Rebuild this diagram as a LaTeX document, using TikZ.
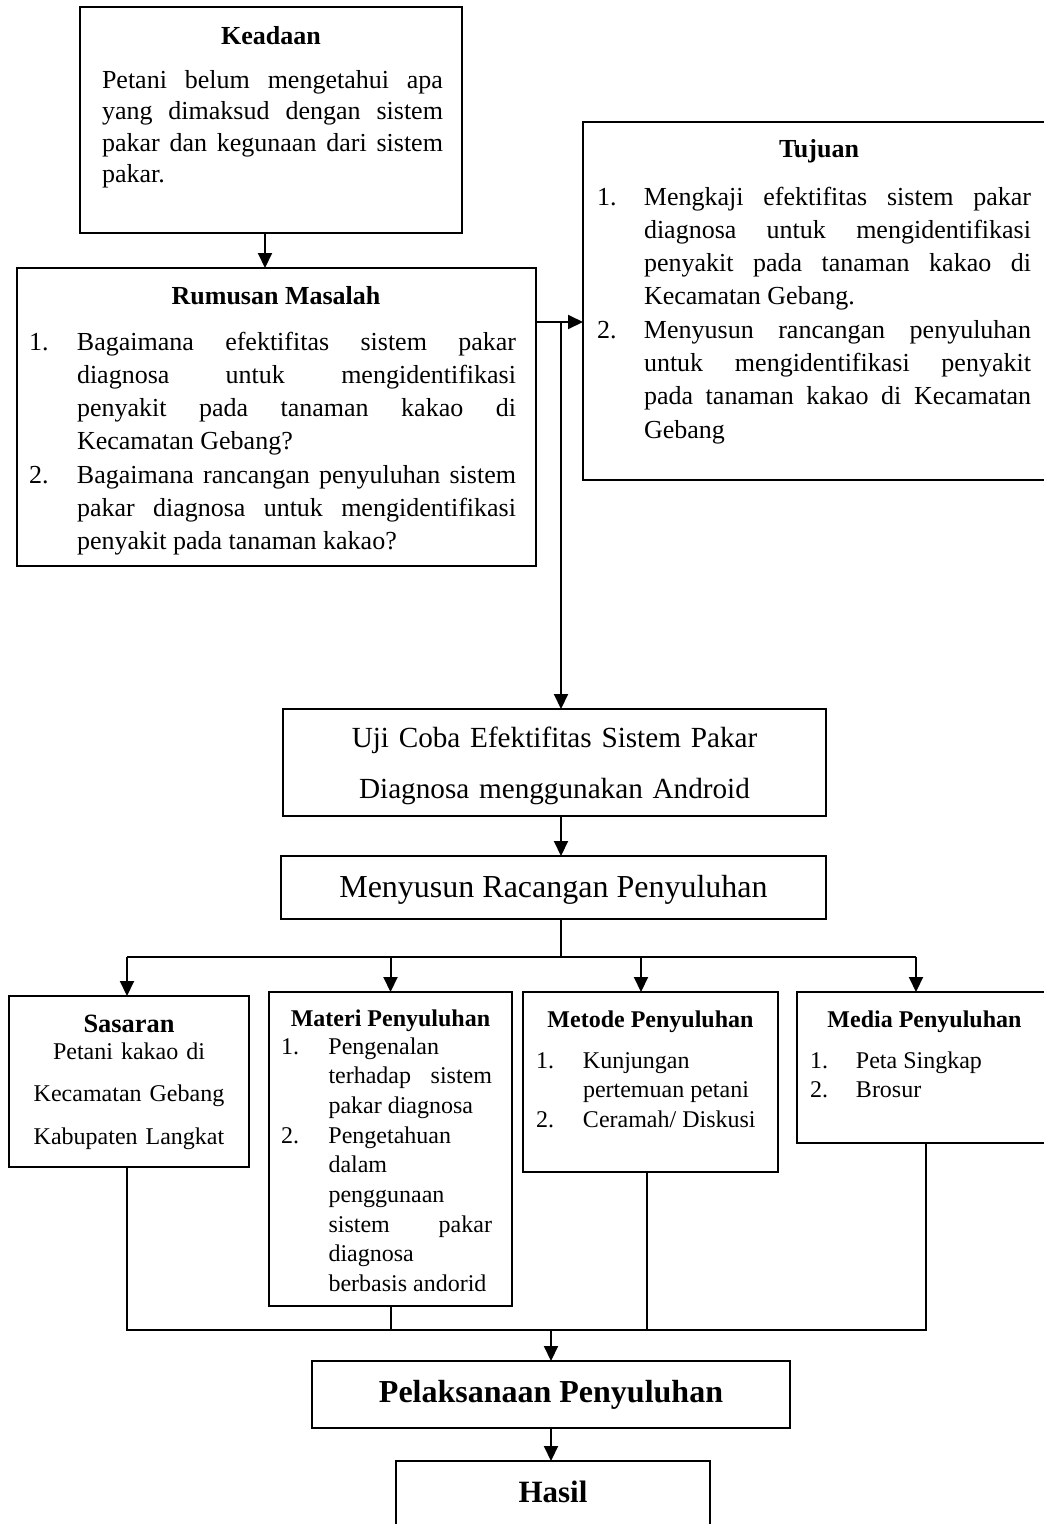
\documentclass[tikz,border=0pt]{standalone}
\usepackage{fontspec}
\setmainfont{Liberation Serif}
\usetikzlibrary{arrows.meta}

\hbadness=10000
\hyphenpenalty=10000
\tolerance=10000

\newlength{\numw}
\newcommand{\numitem}[2]{\noindent\hangindent=\numw\hangafter=1\makebox[\numw][l]{#1}#2\par}
\newcommand{\topfont}{\fontsize{26}{33.3}\selectfont}
\newcommand{\boxfont}{\fontsize{24}{29.7}\selectfont}

\begin{document}
\begin{tikzpicture}[
    x=1pt, y=-1pt,
    >={Triangle[length=15pt, width=14pt]},
    line width=2pt,
    box/.style={draw, line width=2pt, outer sep=0pt, inner sep=0pt, anchor=north west},
    head/.style={anchor=base, inner sep=0pt},
    body/.style={anchor=base west, inner sep=0pt, align=justify},
    mid/.style={anchor=base, inner sep=0pt, align=center},
  ]

  \useasboundingbox (0,0) rectangle (1044,1524);
  \clip (0,0) rectangle (1044,1524);

  % === Keadaan ===
  \node[box, minimum width=382pt, minimum height=226pt] (keadaan) at (80,7) {};
  \node[head, font={\fontsize{26}{32}\selectfont\bfseries}] (keadaanHead) at (271,44) {Keadaan};
  \node[body, text width=341pt, font={\fontsize{26}{31.5}\selectfont}] (keadaanBody) at (101,88)
    {Petani belum mengetahui apa\linebreak yang dimaksud dengan sistem\linebreak
     pakar dan kegunaan dari sistem\linebreak pakar.};

  % === Rumusan Masalah ===
  \node[box, minimum width=519pt, minimum height=298pt] (rumusan) at (17,268) {};
  \node[head, font={\topfont\bfseries}] (rumusanHead) at (276,304) {Rumusan Masalah};
  \node[body, text width=487pt, font=\topfont] (rumusanBody) at (28,350)
    {\setlength{\numw}{48pt}%
     \numitem{1.}{Bagaimana efektifitas sistem pakar\linebreak diagnosa untuk mengidentifikasi\linebreak
       penyakit pada tanaman kakao di\linebreak Kecamatan Gebang?}%
     \numitem{2.}{Bagaimana rancangan penyuluhan sistem\linebreak pakar diagnosa untuk mengidentifikasi\linebreak
       penyakit pada tanaman kakao?}};

  % === Tujuan ===
  \node[box, minimum width=472pt, minimum height=358pt] (tujuan) at (583,122) {};
  \node[head, font={\topfont\bfseries}] (tujuanHead) at (819,157) {Tujuan};
  \node[body, text width=434pt, font=\topfont] (tujuanBody) at (596,205)
    {\setlength{\numw}{47pt}%
     \numitem{1.}{Mengkaji efektifitas sistem pakar\linebreak diagnosa untuk mengidentifikasi\linebreak
       penyakit pada tanaman kakao di\linebreak Kecamatan Gebang.}%
     \numitem{2.}{Menyusun rancangan penyuluhan\linebreak untuk mengidentifikasi penyakit\linebreak
       pada tanaman kakao di Kecamatan\linebreak Gebang}};

  % Rumusan -> Tujuan, and down to the trial box
  \coordinate (split) at (561,322);
  \draw[->] ([xshift=-6pt]keadaan.south) -- ([xshift=-6pt]keadaan.south |- rumusan.north);
  \draw[->] (rumusan.east |- split) -- (tujuan.west |- split);

  % === Uji coba / rancangan ===
  \node[box, minimum width=543pt, minimum height=107pt] (uji) at (283,709) {};
  \node[mid, text width=543pt, font={\fontsize{29.2}{51}\selectfont}] (ujiText) at (554.5,747)
    {Uji Coba Efektifitas Sistem Pakar\\ Diagnosa menggunakan Android};
  \node[box, minimum width=545pt, minimum height=63pt] (menyusun) at (281,856) {};
  \node[head, font={\fontsize{32}{36}\selectfont}] (menyusunText) at (553.5,897)
    {Menyusun Racangan Penyuluhan};

  \draw[->] (split) -- (split |- uji.north);
  \draw[->] (uji.south -| split) -- (menyusun.north -| split);

  % === Four boxes of the plan ===
  \node[box, minimum width=240pt, minimum height=171pt] (sasaran) at (9,996) {};
  \node[head, font={\fontsize{26.4}{30}\selectfont\bfseries}] (sasaranHead) at (129,1032) {Sasaran};
  \node[mid, text width=230pt, font={\fontsize{24}{42.5}\selectfont}] (sasaranBody) at (129,1059)
    {Petani kakao di\\ Kecamatan Gebang\\ Kabupaten Langkat};

  \node[box, minimum width=243pt, minimum height=314pt] (materi) at (269,992) {};
  \node[head, font={\boxfont\bfseries}] (materiHead) at (390.5,1026) {Materi Penyuluhan};
  \node[body, text width=211pt, font=\boxfont] (materiBody) at (280,1054)
    {\setlength{\numw}{47.5pt}%
     \numitem{1.}{Pengenalan\linebreak terhadap sistem\linebreak pakar diagnosa}%
     \numitem{2.}{Pengetahuan\linebreak dalam\linebreak penggunaan\linebreak sistem pakar\linebreak
       diagnosa\linebreak berbasis andorid}};

  \node[box, minimum width=255pt, minimum height=180pt] (metode) at (523,992) {};
  \node[head, font={\boxfont\bfseries}] (metodeHead) at (650.5,1027) {Metode Penyuluhan};
  \node[body, text width=230pt, font=\boxfont] (metodeBody) at (535,1068)
    {\setlength{\numw}{47pt}%
     \numitem{1.}{Kunjungan\linebreak pertemuan petani}%
     \numitem{2.}{Ceramah/ Diskusi}};

  \node[box, minimum width=255pt, minimum height=151pt] (media) at (797,992) {};
  \node[head, font={\boxfont\bfseries}] (mediaHead) at (924.5,1027) {Media Penyuluhan};
  \node[body, text width=230pt, font=\boxfont] (mediaBody) at (809,1068)
    {\setlength{\numw}{46pt}%
     \numitem{1.}{Peta Singkap}%
     \numitem{2.}{Brosur}};

  % Fork from the plan into the four boxes
  \coordinate (fork) at (561,957);
  \coordinate (forkL) at (127,957);
  \coordinate (forkM) at (641,957);
  \coordinate (forkR) at (916,957);
  \draw (menyusun.south -| fork) -- (fork);
  \draw (forkL) -- (forkR);
  \draw[->] (forkL) -- (forkL |- sasaran.north);
  \draw[->] (materi.north |- fork) -- (materi.north);
  \draw[->] (forkM) -- (forkM |- metode.north);
  \draw[->] (forkR) -- (forkR |- media.north);

  % === Pelaksanaan and Hasil ===
  \node[box, minimum width=478pt, minimum height=67pt] (pelaksanaan) at (312,1361) {};
  \node[head, font={\fontsize{32}{36}\selectfont\bfseries}] (pelaksanaanText) at (551,1402)
    {Pelaksanaan Penyuluhan};
  \node[box, minimum width=314pt, minimum height=100pt] (hasil) at (396,1461) {};
  \node[head, font={\fontsize{31}{36}\selectfont\bfseries}] (hasilText) at (553,1502) {Hasil};

  % Join of the four boxes
  \coordinate (joinL) at (127,1330);
  \coordinate (joinR) at (926,1330);
  \draw (sasaran.south -| joinL) -- (joinL) -- (joinR) -- (media.south -| joinR);
  \draw (materi.south) -- (materi.south |- joinL);
  \draw ([xshift=-3.5pt]metode.south) -- ([xshift=-3.5pt]metode.south |- joinL);
  \draw[->] (pelaksanaan.north |- joinL) -- (pelaksanaan.north);
  \draw[->] (pelaksanaan.south) -- (pelaksanaan.south |- hasil.north);

\end{tikzpicture}
\end{document}
